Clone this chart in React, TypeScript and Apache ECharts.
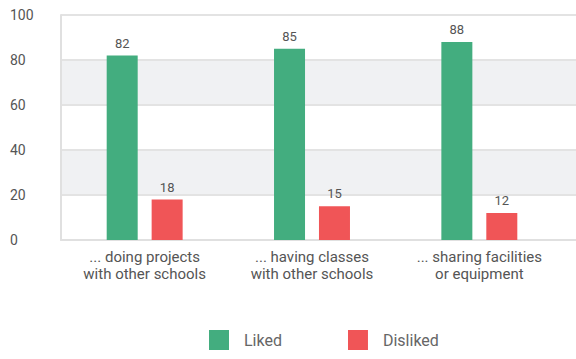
import React, { useEffect, useRef } from "react";
import * as echarts from "echarts";

const categories = [
  "... doing projects\nwith other schools",
  "... having classes\nwith other schools",
  "... sharing facilities\nor equipment",
];
const liked = [82, 85, 88];
const disliked = [18, 15, 12];
const yMin = 0;
const yMax = 100;
const yStep = 20;

export default function App() {
  const ref = useRef<HTMLDivElement>(null);
  useEffect(() => {
    const chart = echarts.init(ref.current!, null, { renderer: "svg" });
    const font = "Roboto, 'Open Sans', sans-serif";
    chart.setOption({
      animation: false,
      textStyle: { fontFamily: font },
      grid: [
        { left: 61, right: 13, top: 15, bottom: 119 },
        { left: 61, right: 0, top: 15, bottom: 119 },
      ],
      legend: {
        data: ["Liked", "Disliked"],
        bottom: 4,
        left: 204,
        itemWidth: 20,
        itemHeight: 20,
        itemGap: 66,
        icon: "rect",
        textStyle: { fontSize: 16, color: "#666", fontFamily: font, padding: [7, 0, 0, 10] },
      },
      xAxis: [
        {
          type: "category",
          gridIndex: 0,
          data: categories,
          axisLine: { show: false },
          axisTick: { show: false },
          axisLabel: { fontSize: 15, color: "#555", lineHeight: 17.5, margin: 8, fontFamily: font },
        },
        {
          type: "value",
          gridIndex: 1,
          min: 0,
          max: 1,
          axisLine: { show: true, onZero: false, lineStyle: { color: "#e0e0e0", width: 2 } },
          axisTick: { show: false },
          axisLabel: { show: false },
          splitLine: { show: false },
        },
      ],
      yAxis: [
        {
          type: "value",
          gridIndex: 0,
          min: yMin,
          max: yMax,
          interval: yStep,
          axisLine: { show: false },
          axisTick: { show: false },
          axisLabel: { fontSize: 14, color: "#555", align: "left", margin: 51, fontFamily: font },
          splitLine: { show: false },
        },
        {
          type: "value",
          gridIndex: 1,
          min: yMin,
          max: yMax,
          interval: yStep,
          z: 0,
          axisLine: { show: true, lineStyle: { color: "#e0e0e0", width: 2 } },
          axisTick: { show: false },
          axisLabel: { show: false },
          splitLine: { lineStyle: { color: "#e3e3e3", width: 2 } },
          splitArea: { show: true, areaStyle: { color: ["#ffffff", "#f0f1f3"] } },
        },
      ],
      series: [
        {
          name: "Liked",
          type: "bar",
          xAxisIndex: 0,
          yAxisIndex: 0,
          data: liked,
          barWidth: 31,
          barGap: "45%",
          z: 5,
          itemStyle: { color: "#43ad7f" },
          label: { show: true, position: "top", distance: 6, fontSize: 13, color: "#555", fontFamily: font },
        },
        {
          name: "Disliked",
          type: "bar",
          xAxisIndex: 0,
          yAxisIndex: 0,
          data: disliked,
          barWidth: 31,
          z: 5,
          itemStyle: { color: "#f05557" },
          label: { show: true, position: "top", distance: 6, fontSize: 13, color: "#555", fontFamily: font },
        },
      ],
    });
    return () => chart.dispose();
  }, []);
  return <div ref={ref} style={{ width: 576, height: 359, position: "absolute", left: 0, top: 0 }} />;
}
